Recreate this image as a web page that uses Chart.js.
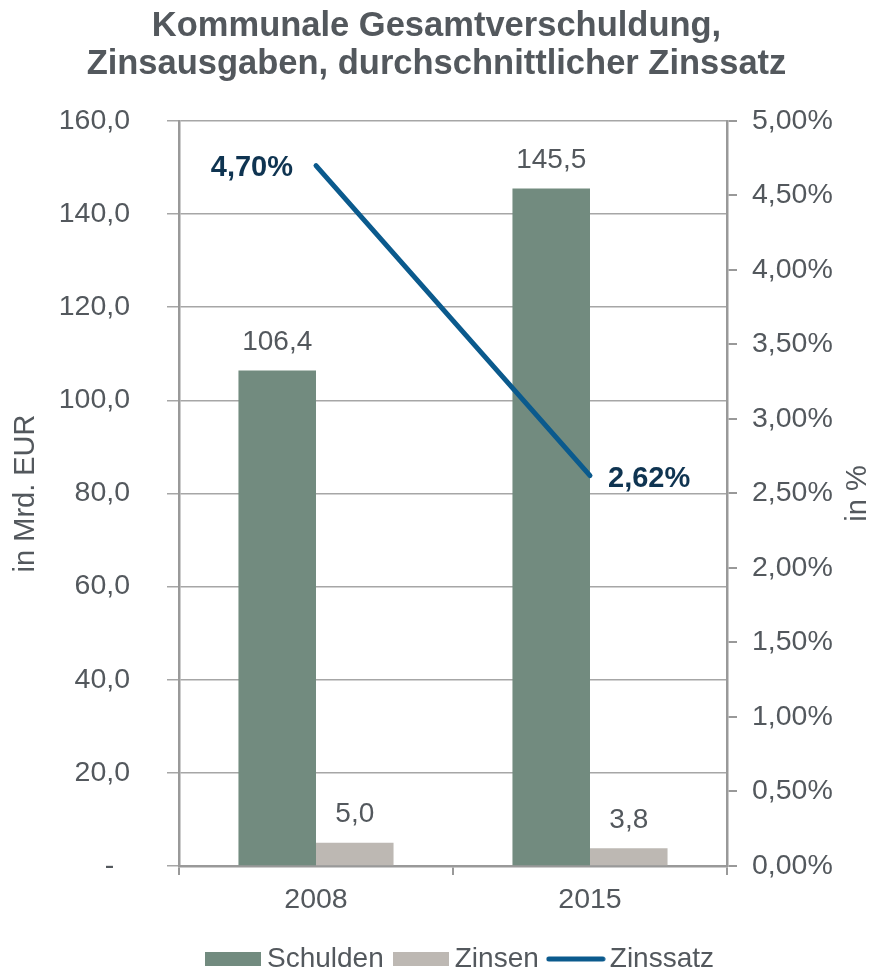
<!DOCTYPE html>
<html>
<head>
<meta charset="utf-8">
<script src="https://cdn.jsdelivr.net/npm/chart.js@4"></script>
<style>
  html, body { margin: 0; padding: 0; background: #fff; }
  #wrap { width: 873px; height: 970px; }
</style>
</head>
<body>
<div id="wrap"><canvas id="c" width="873" height="970"></canvas></div>
<script>
const categories = ['2008', '2015'];
const schulden = [106.4, 145.5];
const zinsen = [5.0, 3.8];
const zinssatz = [4.70, 2.62];
const titleLines = ['Kommunale Gesamtverschuldung,', 'Zinsausgaben, durchschnittlicher Zinssatz'];

const TEXT = '#53585d';
const FONT = 'Liberation Sans, Arial, sans-serif';
const C_SCHULDEN = '#728b7f';
const C_ZINSEN = '#bdb8b3';
const C_LINE = '#0b5a8d';
const fmt1 = v => v.toFixed(1).replace('.', ',');
const fmt2p = v => v.toFixed(2).replace('.', ',') + '%';

function swatch(w, h, draw) {
  const c = document.createElement('canvas');
  c.width = w; c.height = h;
  draw(c.getContext('2d'), w, h);
  return c;
}
const swSchulden = swatch(56, 14, (g, w, h) => { g.fillStyle = C_SCHULDEN; g.fillRect(0, 0, w, h); });
const swZinsen = swatch(56, 14, (g, w, h) => { g.fillStyle = C_ZINSEN; g.fillRect(0, 0, w, h); });
const swLine = swatch(60, 8, (g, w, h) => {
  g.strokeStyle = C_LINE; g.lineWidth = 5; g.lineCap = 'round';
  g.beginPath(); g.moveTo(3, h / 2); g.lineTo(w - 3, h / 2); g.stroke();
});

const labelPlugin = {
  id: 'valueLabels',
  afterLayout(chart) {
    if (chart.legend) { chart.legend.left += 27; chart.legend.right += 27; }
  },
  afterDatasetsDraw(chart) {
    const ctx = chart.ctx;
    ctx.save();
    chart.data.datasets.forEach((ds, di) => {
      const meta = chart.getDatasetMeta(di);
      meta.data.forEach((el, i) => {
        const v = ds.data[i];
        if (ds.type === 'line') {
          ctx.font = 'bold 29px ' + FONT;
          ctx.fillStyle = '#0f3451';
          ctx.textBaseline = 'middle';
          if (i === 0) { ctx.textAlign = 'right'; ctx.fillText(fmt2p(v), el.x - 23, el.y + 2); }
          else { ctx.textAlign = 'left'; ctx.fillText(fmt2p(v), el.x + 18, el.y + 3); }
        } else {
          ctx.font = '28px ' + FONT;
          ctx.fillStyle = TEXT;
          ctx.textAlign = 'center';
          ctx.textBaseline = 'middle';
          ctx.fillText(fmt1(v), el.x, el.y - 28);
        }
      });
    });
    ctx.restore();
  },
  afterDraw(chart) {
    const ctx = chart.ctx;
    const s = chart.scales.y1;
    ctx.save();
    ctx.translate(858, (s.top + s.bottom) / 2);
    ctx.rotate(-Math.PI / 2);
    ctx.font = '29px ' + FONT;
    ctx.fillStyle = TEXT;
    ctx.textAlign = 'center';
    ctx.textBaseline = 'middle';
    ctx.fillText('in %', 0, 0);
    ctx.restore();
  }
};

new Chart(document.getElementById('c'), {
  type: 'bar',
  data: {
    labels: categories,
    datasets: [
      { type: 'line', label: 'Zinssatz', data: zinssatz, yAxisID: 'y1', borderColor: C_LINE, backgroundColor: C_LINE, borderWidth: 5, borderCapStyle: 'round', pointRadius: 0, order: 0 },
      { label: 'Schulden', data: schulden, yAxisID: 'y', backgroundColor: C_SCHULDEN, order: 1 },
      { label: 'Zinsen', data: zinsen, yAxisID: 'y', backgroundColor: C_ZINSEN, order: 1 }
    ]
  },
  options: {
    responsive: false,
    animation: false,
    layout: { padding: { top: 0, left: 0, right: 0, bottom: -13 } },
    datasets: { bar: { categoryPercentage: 0.566, barPercentage: 1.0 } },
    plugins: {
      tooltip: { enabled: false },
      title: {
        display: true,
        text: titleLines,
        color: TEXT,
        font: { family: FONT, size: 34.5, weight: 'bold', lineHeight: 1.1 },
        padding: { top: 8, bottom: 37 }
      },
      legend: {
        position: 'bottom',
        labels: {
          color: TEXT,
          font: { family: FONT, size: 28 },
          usePointStyle: true,
          pointStyleWidth: 40,
          boxHeight: 14,
          padding: 17,
          generateLabels(chart) {
            const order = [1, 2, 0];
            const sw = { 'Schulden': swSchulden, 'Zinsen': swZinsen, 'Zinssatz': swLine };
            return order.map(i => {
              const ds = chart.data.datasets[i];
              return {
                text: ds.label,
                fillStyle: ds.backgroundColor,
                strokeStyle: ds.backgroundColor,
                lineWidth: 0,
                pointStyle: sw[ds.label],
                fontColor: TEXT,
                hidden: false,
                datasetIndex: i
              };
            });
          }
        }
      }
    },
    scales: {
      x: {
        offset: true,
        grid: { display: true, offset: true, drawOnChartArea: false, drawTicks: true, tickLength: 9, color: '#999', lineWidth: 2 },
        border: { display: true, color: '#999', width: 2.5 },
        ticks: { color: TEXT, font: { family: FONT, size: 28.5 }, padding: 8 },
        afterFit(scale) { scale.height = 62; }
      },
      y: {
        position: 'left',
        min: 0, max: 160,
        ticks: { stepSize: 20, color: TEXT, font: { family: FONT, size: 28.5 }, padding: 37,
          callback: v => v === 0 ? '-  ' : fmt1(v) },
        grid: { color: '#a6a6a6', lineWidth: 1.5, tickLength: 12, drawTicks: true },
        border: { display: true, color: '#999', width: 2.5 },
        title: { display: true, text: 'in Mrd. EUR', color: TEXT, font: { family: FONT, size: 29 }, padding: { top: 9, bottom: 0 } },
        afterFit(scale) { scale.width = 179; }
      },
      y1: {
        position: 'right',
        min: 0, max: 5,
        ticks: { stepSize: 0.5, color: TEXT, font: { family: FONT, size: 28.5 }, padding: 15,
          callback: v => fmt2p(v) },
        grid: { drawOnChartArea: false, drawTicks: true, tickLength: 10, color: '#999', lineWidth: 2 },
        border: { display: true, color: '#999', width: 2.5 },
        afterFit(scale) { scale.width = 146; }
      }
    }
  },
  plugins: [labelPlugin]
});
</script>
</body>
</html>
